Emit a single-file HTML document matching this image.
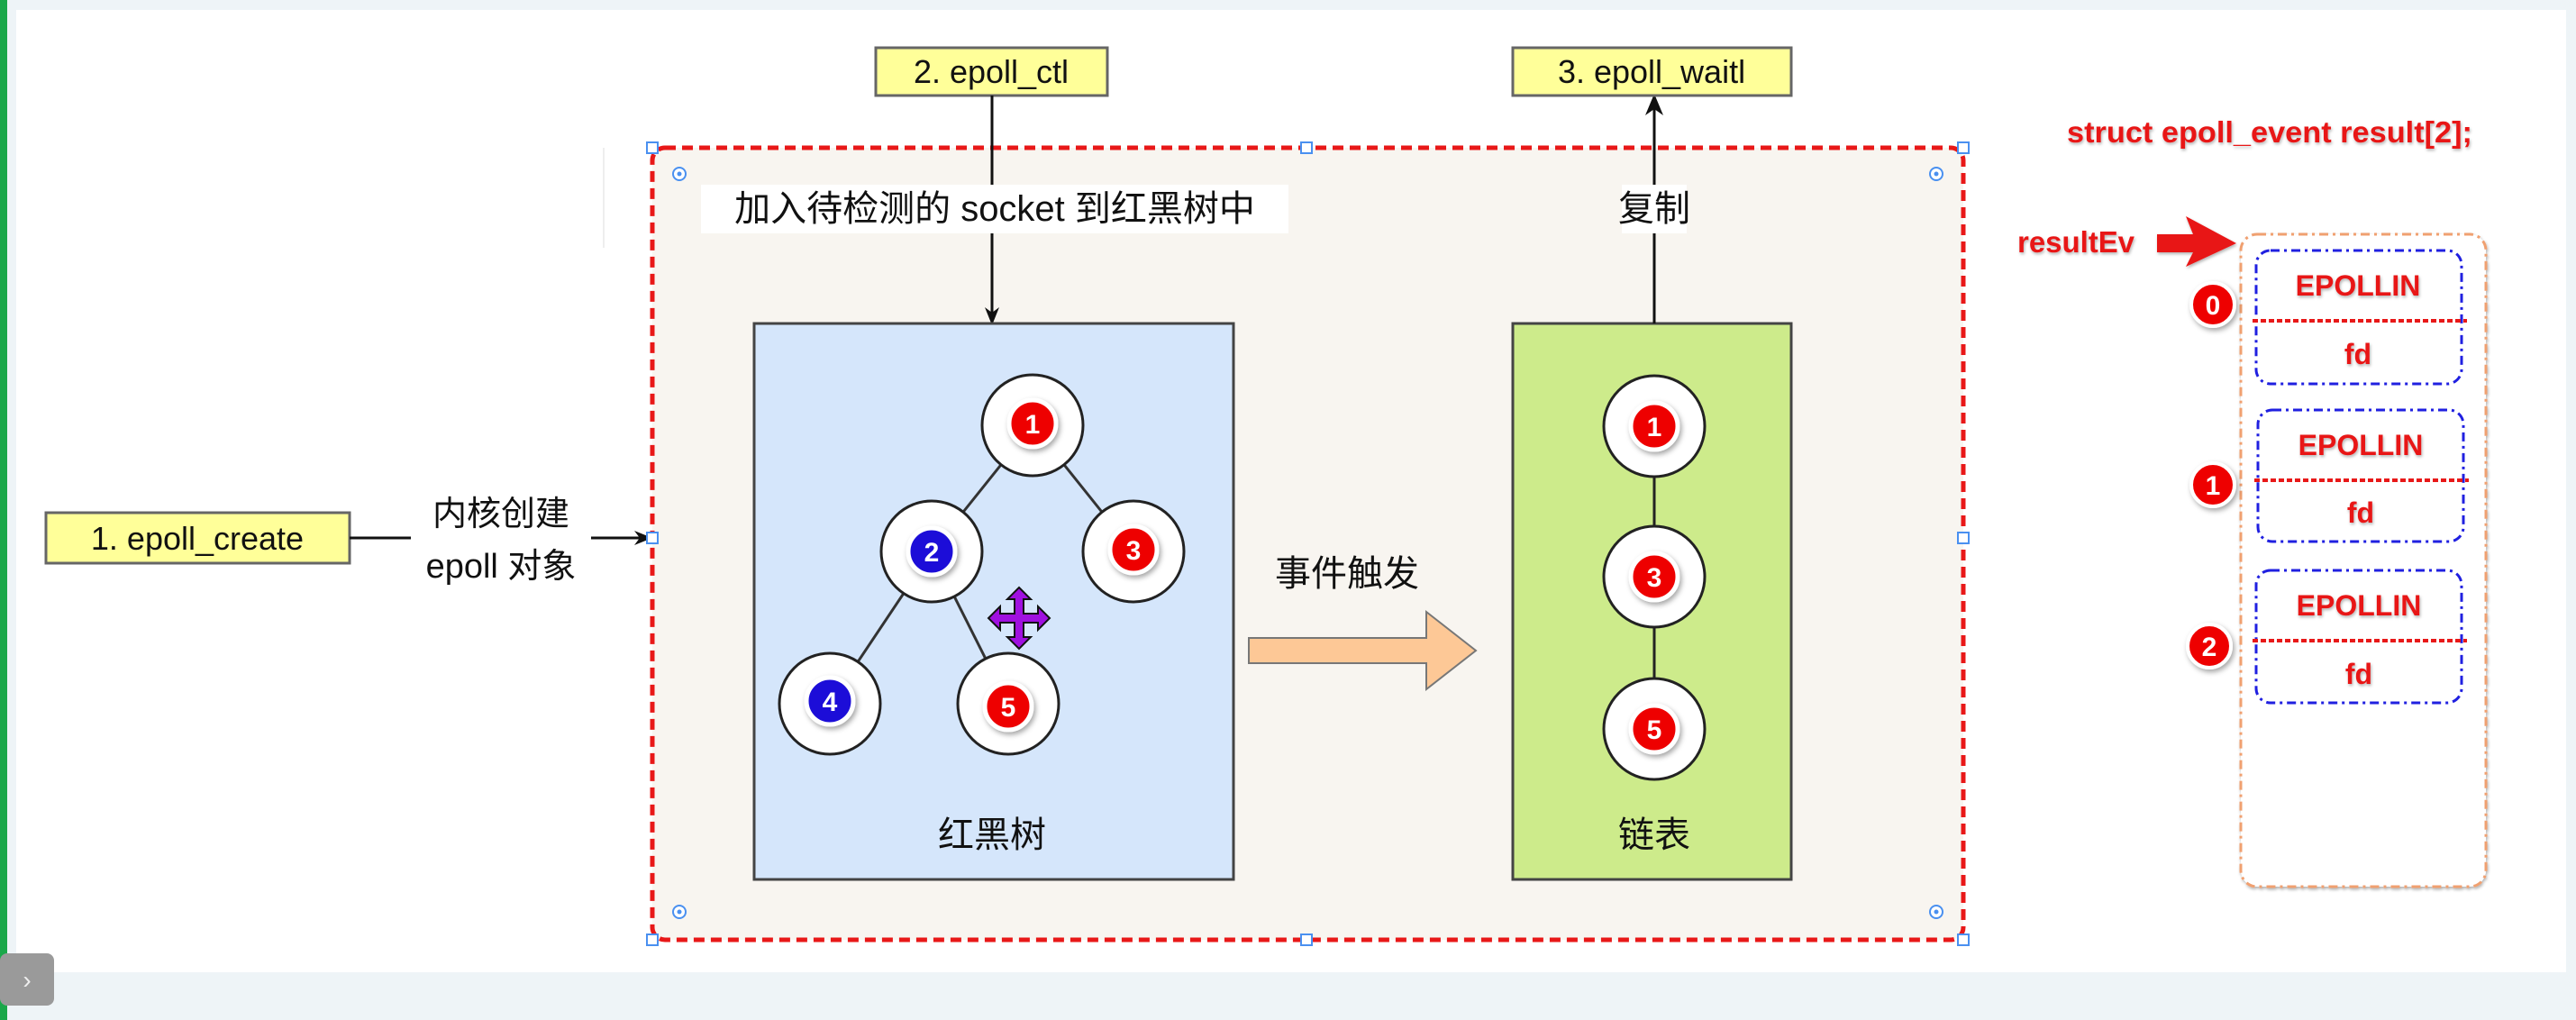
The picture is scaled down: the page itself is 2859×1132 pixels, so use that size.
<!DOCTYPE html>
<html><head><meta charset="utf-8"><style>
html,body{margin:0;padding:0;width:2859px;height:1132px;overflow:hidden;background:#eef4f7}
svg{display:block}
text{font-family:"Liberation Sans","Noto Sans CJK SC",sans-serif}
</style></head><body>
<svg width="2859" height="1132" viewBox="0 0 2859 1132" xmlns="http://www.w3.org/2000/svg">
<defs>
<filter id="sh" x="-30%" y="-30%" width="160%" height="160%"><feDropShadow dx="2" dy="3" stdDeviation="3" flood-color="#000" flood-opacity="0.35"/></filter>
<filter id="ts" x="-10%" y="-30%" width="120%" height="160%"><feDropShadow dx="1" dy="2" stdDeviation="1.5" flood-color="#000" flood-opacity="0.3"/></filter>
<marker id="ar" markerWidth="20" markerHeight="20" refX="18" refY="10" orient="auto" markerUnits="userSpaceOnUse"><path d="M0,2 L20,10 L0,18 L6,10 Z" fill="#111"/></marker>
</defs>
<rect x="0" y="0" width="2859" height="1132" fill="#eef4f7"/>
<rect x="18" y="11" width="2830" height="1068" fill="#fff"/>
<rect x="0" y="0" width="8" height="1132" fill="#1aa84a"/>
<rect x="0" y="1058" width="60" height="58" rx="8" fill="#9a9a9a"/>
<text x="30" y="1097" font-size="28" fill="#eee" text-anchor="middle">›</text>

<rect x="724" y="164" width="1455" height="879" rx="14" fill="#f8f5f0" stroke="#e81818" stroke-width="5" stroke-dasharray="12,7"/>
<line x1="670" y1="164" x2="670" y2="275" stroke="#eee" stroke-width="2"/>

<rect x="51" y="569" width="337" height="56" fill="#ffff99" stroke="#666" stroke-width="3"/>
<text x="219" y="610" font-size="36" text-anchor="middle" fill="#111">1. epoll_create</text>
<line x1="388" y1="597" x2="456" y2="597" stroke="#111" stroke-width="3"/>
<line x1="656" y1="597" x2="722" y2="597" stroke="#111" stroke-width="3" marker-end="url(#ar)"/>
<text x="556" y="583" font-size="38" text-anchor="middle" fill="#111">内核创建</text>
<text x="556" y="641" font-size="38" text-anchor="middle" fill="#111">epoll 对象</text>

<rect x="972" y="53" width="257" height="53" fill="#ffff99" stroke="#666" stroke-width="3"/>
<text x="1100" y="92" font-size="36" text-anchor="middle" fill="#111">2. epoll_ctl</text>
<line x1="1101" y1="106" x2="1101" y2="359" stroke="#111" stroke-width="3" marker-end="url(#ar)"/>
<rect x="778" y="205" width="652" height="54" fill="#fff"/>
<text x="1104" y="245" font-size="40" text-anchor="middle" fill="#111">加入待检测的 socket 到红黑树中</text>

<rect x="837" y="359" width="532" height="617" fill="#d5e6fb" stroke="#444" stroke-width="3"/>
<g stroke="#333" stroke-width="3">
<line x1="1146" y1="472" x2="1034" y2="612"/><line x1="1146" y1="472" x2="1258" y2="612"/>
<line x1="1034" y1="612" x2="921" y2="781"/><line x1="1034" y1="612" x2="1119" y2="781"/>
</g>
<g stroke="#222" stroke-width="3" fill="#fff">
<circle cx="1146" cy="472" r="56"/><circle cx="1034" cy="612" r="56"/><circle cx="1258" cy="612" r="56"/>
<circle cx="921" cy="781" r="56"/><circle cx="1119" cy="781" r="56"/>
</g>
<g filter="url(#sh)" stroke="#fff" stroke-width="5">
<circle cx="1146" cy="470" r="26" fill="#e00"/><circle cx="1034" cy="612" r="26" fill="#1a10d8"/><circle cx="1258" cy="610" r="26" fill="#e00"/>
<circle cx="921" cy="778" r="26" fill="#1a10d8"/><circle cx="1119" cy="784" r="26" fill="#e00"/>
</g>
<g font-size="30" font-weight="bold" fill="#fff" text-anchor="middle">
<text x="1146" y="481">1</text><text x="1034" y="623">2</text><text x="1258" y="621">3</text><text x="921" y="789">4</text><text x="1119" y="795">5</text>
</g>
<path d="M1131,652 L1144,665 L1136,665 L1136,681 L1152,681 L1152,673 L1165,686 L1152,699 L1152,691 L1136,691 L1136,707 L1144,707 L1131,720 L1118,707 L1126,707 L1126,691 L1110,691 L1110,699 L1097,686 L1110,673 L1110,681 L1126,681 L1126,665 L1118,665 Z" fill="#a010e0" stroke="#111" stroke-width="2"/>
<text x="1101" y="940" font-size="40" text-anchor="middle" fill="#111">红黑树</text>

<text x="1495" y="650" font-size="40" text-anchor="middle" fill="#111">事件触发</text>
<path d="M1386,708 L1583,708 L1583,679 L1638,722 L1583,765 L1583,736 L1386,736 Z" fill="#fdc896" stroke="#777" stroke-width="2"/>

<rect x="1679" y="359" width="309" height="617" fill="#cdeb8b" stroke="#444" stroke-width="3"/>
<line x1="1836" y1="110" x2="1836" y2="359" stroke="#111" stroke-width="3"/>
<path d="M1836,104 L1846,128 L1836,121 L1826,128 Z" fill="#111"/>
<rect x="1800" y="205" width="72" height="54" fill="#fff"/>
<text x="1836" y="245" font-size="40" text-anchor="middle" fill="#111">复制</text>
<line x1="1836" y1="473" x2="1836" y2="809" stroke="#222" stroke-width="3"/>
<g stroke="#222" stroke-width="3" fill="#fff">
<circle cx="1836" cy="473" r="56"/><circle cx="1836" cy="640" r="56"/><circle cx="1836" cy="809" r="56"/>
</g>
<g filter="url(#sh)" stroke="#fff" stroke-width="5" fill="#e00">
<circle cx="1836" cy="473" r="26"/><circle cx="1836" cy="640" r="26"/><circle cx="1836" cy="809" r="26"/>
</g>
<g font-size="30" font-weight="bold" fill="#fff" text-anchor="middle">
<text x="1836" y="484">1</text><text x="1836" y="651">3</text><text x="1836" y="820">5</text>
</g>
<text x="1836" y="940" font-size="40" text-anchor="middle" fill="#111">链表</text>

<rect x="1679" y="53" width="309" height="53" fill="#ffff99" stroke="#666" stroke-width="3"/>
<text x="1833" y="92" font-size="36" text-anchor="middle" fill="#111">3. epoll_waitl</text>

<g fill="#fff" stroke="#4a90f0" stroke-width="2">
<rect x="718" y="158" width="12" height="12"/><rect x="1444" y="158" width="12" height="12"/><rect x="2173" y="158" width="12" height="12"/>
<rect x="718" y="591" width="12" height="12"/><rect x="2173" y="591" width="12" height="12"/>
<rect x="718" y="1037" width="12" height="12"/><rect x="1444" y="1037" width="12" height="12"/><rect x="2173" y="1037" width="12" height="12"/>
<circle cx="754" cy="193" r="7"/><circle cx="2149" cy="193" r="7"/><circle cx="754" cy="1012" r="7"/><circle cx="2149" cy="1012" r="7"/>
</g>
<g fill="#4a90f0"><circle cx="754" cy="193" r="2.5"/><circle cx="2149" cy="193" r="2.5"/><circle cx="754" cy="1012" r="2.5"/><circle cx="2149" cy="1012" r="2.5"/></g>

<text x="2519" y="158" font-size="33" font-weight="bold" fill="#e81818" text-anchor="middle" filter="url(#ts)" textLength="450" lengthAdjust="spacingAndGlyphs">struct epoll_event result[2];</text>
<text x="2304" y="280" font-size="33" font-weight="bold" fill="#e81818" text-anchor="middle" filter="url(#ts)" textLength="130" lengthAdjust="spacingAndGlyphs">resultEv</text>
<path d="M2394,260 L2434,260 L2426,240 L2482,270 L2426,296 L2434,280 L2394,280 Z" fill="#e81818" filter="url(#ts)"/>
<rect x="2487" y="260" width="272" height="724" rx="18" fill="#fff" stroke="#f0a070" stroke-width="3" stroke-dasharray="10,5,3,5" filter="url(#ts)"/>
<g fill="none" stroke="#2020e0" stroke-width="3" stroke-dasharray="10,5,3,5">
<rect x="2504" y="278" width="228" height="148" rx="16"/>
<rect x="2506" y="455" width="228" height="146" rx="16"/>
<rect x="2504" y="633" width="228" height="147" rx="16"/>
</g>
<g stroke="#e81818" stroke-width="4" stroke-dasharray="6,3">
<line x1="2500" y1="356" x2="2738" y2="356"/><line x1="2502" y1="533" x2="2740" y2="533"/><line x1="2500" y1="711" x2="2738" y2="711"/>
</g>
<g font-size="32" font-weight="bold" fill="#e81818" text-anchor="middle" filter="url(#ts)">
<text x="2617" y="328">EPOLLIN</text><text x="2617" y="404">fd</text>
<text x="2620" y="505">EPOLLIN</text><text x="2620" y="580">fd</text>
<text x="2618" y="683">EPOLLIN</text><text x="2618" y="759">fd</text>
</g>
<g filter="url(#sh)" stroke="#fff" stroke-width="4" fill="#e00">
<circle cx="2456" cy="338" r="24"/><circle cx="2456" cy="538" r="24"/><circle cx="2452" cy="717" r="24"/>
</g>
<g font-size="30" font-weight="bold" fill="#fff" text-anchor="middle">
<text x="2456" y="349">0</text><text x="2456" y="549">1</text><text x="2452" y="728">2</text>
</g>
</svg>
</body></html>
